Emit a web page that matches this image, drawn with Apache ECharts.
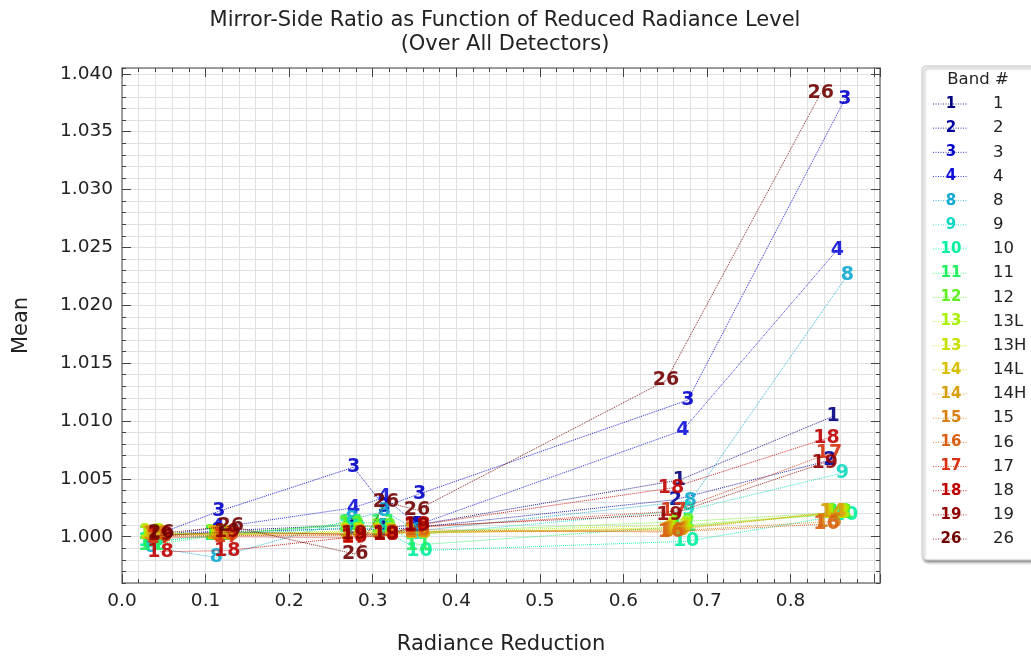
<!DOCTYPE html>
<html>
<head>
<meta charset="utf-8">
<title>Mirror-Side Ratio</title>
<script src="https://cdn.jsdelivr.net/npm/echarts@6/dist/echarts.min.js"></script>
<style>
    html, body { margin: 0; padding: 0; background: #fff; }
    #mirror_side { width: 1031px; height: 656px; }
</style>
</head>
<body>
<div id="mirror_side"></div>
<script>

// Data
// ------------------------------

var bandNames = ['1', '2', '3', '4', '8', '9', '10', '11', '12', '13L', '13H', '14L', '14H', '15', '16', '17', '18', '19', '26'];
var bandMarks = ['1', '2', '3', '4', '8', '9', '10', '11', '12', '13', '13', '14', '14', '15', '16', '17', '18', '19', '26'];
var bandColors = ['#00007f', '#00009c', '#0000c8', '#1010d8', '#10a8d0', '#10d8c0', '#00f0a0', '#20f060', '#60f020',
    '#a8f000', '#c8e000', '#d8c000', '#d8a010', '#d88010', '#d86010', '#d83010', '#c00000', '#900000', '#700000'];

// radiance reduction (x) per band
var radiance_1   = [0.035, 0.115, 0.275, 0.313, 0.352, 0.667, 0.851];
var radiance_2   = [0.035, 0.115, 0.275, 0.313, 0.352, 0.662, 0.847];
var radiance_3   = [0.035, 0.116, 0.277, 0.314, 0.356, 0.677, 0.865];
var radiance_4   = [0.035, 0.115, 0.277, 0.314, 0.353, 0.671, 0.856];
var radiance_8   = [0.035, 0.113, 0.275, 0.314, 0.354, 0.680, 0.868];
var radiance_9   = [0.035, 0.114, 0.275, 0.313, 0.354, 0.678, 0.862];
var radiance_10  = [0.035, 0.114, 0.275, 0.313, 0.356, 0.675, 0.865];
var radiance_11  = [0.035, 0.114, 0.275, 0.313, 0.354, 0.672, 0.860];
var radiance_12  = [0.035, 0.114, 0.274, 0.313, 0.353, 0.670, 0.858];
var radiance_13L = [0.036, 0.116, 0.275, 0.313, 0.353, 0.668, 0.856];
var radiance_13H = [0.037, 0.117, 0.276, 0.314, 0.354, 0.666, 0.854];
var radiance_14L = [0.038, 0.118, 0.276, 0.314, 0.354, 0.664, 0.852];
var radiance_14H = [0.040, 0.120, 0.277, 0.315, 0.354, 0.662, 0.850];
var radiance_15  = [0.042, 0.122, 0.277, 0.315, 0.353, 0.660, 0.846];
var radiance_16  = [0.044, 0.124, 0.278, 0.316, 0.353, 0.657, 0.843];
var radiance_17  = [0.045, 0.125, 0.278, 0.316, 0.353, 0.660, 0.846];
var radiance_18  = [0.046, 0.126, 0.278, 0.316, 0.353, 0.657, 0.843];
var radiance_19  = [0.046, 0.126, 0.278, 0.316, 0.353, 0.655, 0.841];
var radiance_26  = [0.047, 0.130, 0.279, 0.316, 0.353, 0.651, 0.836];

// mean mirror-side ratio (y) per band
var mean_1   = [1.0001, 1.0005, 1.0010, 1.0008, 1.0010, 1.0049, 1.0104];
var mean_2   = [1.0000, 1.0004, 1.0007, 1.0006, 1.0008, 1.0032, 1.0066];
var mean_3   = [1.0000, 1.0022, 1.0060, 1.0026, 1.0037, 1.0118, 1.0378];
var mean_4   = [1.0000, 1.0008, 1.0025, 1.0034, 1.0010, 1.0092, 1.0248];
var mean_8   = [0.9991, 0.9982, 1.0015, 1.0022, 1.0005, 1.0031, 1.0226];
var mean_9   = [0.9995, 1.0002, 1.0010, 1.0008, 1.0002, 1.0023, 1.0055];
var mean_10  = [0.9996, 1.0001, 1.0008, 1.0006, 0.9988, 0.9996, 1.0019];
var mean_11  = [0.9993, 1.0001, 1.0012, 1.0012, 0.9993, 1.0009, 1.0020];
var mean_12  = [1.0002, 1.0003, 1.0010, 1.0008, 1.0004, 1.0013, 1.0021];
var mean_13L = [1.0004, 1.0002, 1.0005, 1.0005, 1.0004, 1.0010, 1.0020];
var mean_13H = [1.0003, 1.0002, 1.0004, 1.0004, 1.0003, 1.0008, 1.0020];
var mean_14L = [1.0002, 1.0002, 1.0003, 1.0003, 1.0003, 1.0007, 1.0021];
var mean_14H = [1.0002, 1.0002, 1.0003, 1.0003, 1.0004, 1.0006, 1.0021];
var mean_15  = [1.0001, 1.0001, 1.0002, 1.0003, 1.0004, 1.0005, 1.0013];
var mean_16  = [1.0000, 1.0001, 1.0001, 1.0001, 1.0006, 1.0004, 1.0011];
var mean_17  = [0.9999, 1.0000, 0.9999, 1.0001, 1.0008, 1.0022, 1.0072];
var mean_18  = [0.9987, 0.9988, 1.0000, 1.0001, 1.0010, 1.0042, 1.0085];
var mean_19  = [1.0001, 1.0004, 1.0002, 1.0002, 1.0009, 1.0019, 1.0064];
var mean_26  = [1.0003, 1.0009, 0.9985, 1.0030, 1.0023, 1.0135, 1.0383];

var radianceByBand = [radiance_1, radiance_2, radiance_3, radiance_4, radiance_8, radiance_9, radiance_10, radiance_11,
    radiance_12, radiance_13L, radiance_13H, radiance_14L, radiance_14H, radiance_15, radiance_16, radiance_17,
    radiance_18, radiance_19, radiance_26];
var meanByBand = [mean_1, mean_2, mean_3, mean_4, mean_8, mean_9, mean_10, mean_11, mean_12, mean_13L, mean_13H,
    mean_14L, mean_14H, mean_15, mean_16, mean_17, mean_18, mean_19, mean_26];

var xTickLabels = ['0.0', '0.1', '0.2', '0.3', '0.4', '0.5', '0.6', '0.7', '0.8'];
var yMajorTicks = [1.000, 1.005, 1.010, 1.015, 1.020, 1.025, 1.030, 1.035, 1.040];


// Setup module
// ------------------------------

var MirrorSideChart = function() {

    var _mirrorSideExample = function() {
        if (typeof echarts == 'undefined') {
            console.warn('Warning - echarts.min.js is not loaded.');
            return;
        }

        var element = document.getElementById('mirror_side');
        if (!element) return;

        var chart = echarts.init(element, null, { renderer: 'canvas' });

        var fontFamily = 'DejaVu Sans, sans-serif';
        var gridColor = '#e0e0e0';
        var frameColor = '#808080';
        var tickColor = '#444';

        var xMin = 0, xMax = 0.907;
        var yMin = 0.996, yMax = 1.0405;

        // Common axis builders
        var xAxisBase = function(position, interval, tickLen, withLine, withLabel, withSplit) {
            return {
                type: 'value',
                position: position,
                min: xMin,
                max: xMax,
                interval: interval,
                axisLine: { show: withLine, onZero: false, lineStyle: { color: frameColor, width: 1.5 } },
                axisTick: { show: true, inside: true, length: tickLen, lineStyle: { color: tickColor, width: 1 } },
                axisLabel: {
                    show: withLabel,
                    margin: 9,
                    fontSize: 18.5,
                    color: '#222',
                    fontFamily: fontFamily,
                    formatter: function(v) {
                        var s = v.toFixed(1);
                        if (Math.abs(v - parseFloat(s)) > 1e-6) return '';
                        return xTickLabels.indexOf(s) >= 0 ? s : '';
                    }
                },
                splitLine: { show: withSplit, lineStyle: { color: gridColor, width: 1 } }
            };
        };

        var yAxisBase = function(position, tickLen, major, withLine, withLabel, withSplit) {
            return {
                type: 'value',
                position: position,
                min: yMin,
                max: yMax,
                interval: 0.001,
                axisLine: { show: withLine, onZero: false, lineStyle: { color: frameColor, width: 1.5 } },
                axisTick: major
                    ? { show: true, inside: true, length: tickLen, customValues: yMajorTicks, lineStyle: { color: tickColor, width: 1 } }
                    : { show: true, inside: true, length: tickLen, lineStyle: { color: tickColor, width: 1 } },
                axisLabel: {
                    show: withLabel,
                    margin: 9,
                    fontSize: 18.5,
                    color: '#222',
                    fontFamily: fontFamily,
                    formatter: function(v) {
                        var k = Math.round(v * 1000);
                        if (Math.abs(v * 1000 - k) > 1e-6 || k % 5 !== 0) return '';
                        return v.toFixed(3);
                    }
                },
                splitLine: { show: withSplit, lineStyle: { color: gridColor, width: 1 } }
            };
        };

        // Series: dotted line + text markers per band
        var series = [];
        bandNames.forEach(function(name, i) {
            var xs = radianceByBand[i];
            var ys = meanByBand[i];
            var pts = xs.map(function(x, j) { return [x, ys[j]]; });

            series.push({
                name: name,
                type: 'line',
                data: pts,
                showSymbol: false,
                symbol: 'none',
                z: 2 + i * 2,
                lineStyle: { color: bandColors[i], width: 1, type: 'dotted', opacity: 0.85 },
                silent: true
            });
            series.push({
                name: name,
                type: 'scatter',
                data: pts,
                symbol: 'circle',
                symbolSize: 1,
                z: 3 + i * 2,
                itemStyle: { color: 'rgba(0,0,0,0)' },
                label: {
                    show: true,
                    position: 'inside',
                    formatter: bandMarks[i],
                    color: bandColors[i],
                    fontWeight: 'bold',
                    fontSize: 19,
                    fontFamily: fontFamily,
                    opacity: 0.9
                }
            });
        });

        // Legend drawn as graphics
        var legendItems = [];
        var legendX = 922, legendY = 66, rowTop = 104, rowStep = 24.17;
        legendItems.push({
            type: 'rect',
            shape: { x: legendX, y: legendY, width: 130, height: 494, r: 4 },
            style: { fill: '#fff', stroke: '#c8c8c8', lineWidth: 1, shadowBlur: 3, shadowOffsetX: 2, shadowOffsetY: 2, shadowColor: 'rgba(0,0,0,0.45)' },
            z: 100
        });
        legendItems.push({
            type: 'text',
            x: 978, y: 80,
            style: { text: 'Band #', font: '16.5px ' + fontFamily, fill: '#222', align: 'center', verticalAlign: 'middle' },
            z: 101
        });
        bandNames.forEach(function(name, i) {
            var y = rowTop + i * rowStep;
            legendItems.push({
                type: 'line',
                shape: { x1: 933, y1: y, x2: 968, y2: y },
                style: { stroke: bandColors[i], lineWidth: 1, lineDash: [1, 1.5], opacity: 0.8 },
                z: 101
            });
            legendItems.push({
                type: 'text',
                x: 951, y: y,
                style: { text: bandMarks[i], font: 'bold 15px ' + fontFamily, fill: bandColors[i], align: 'center', verticalAlign: 'middle' },
                z: 102
            });
            legendItems.push({
                type: 'text',
                x: 993, y: y,
                style: { text: name, font: '16.5px ' + fontFamily, fill: '#222', align: 'left', verticalAlign: 'middle' },
                z: 102
            });
        });

        chart.setOption({
            animation: false,
            textStyle: { fontFamily: fontFamily },

            title: {
                text: 'Mirror-Side Ratio as Function of Reduced Radiance Level\n(Over All Detectors)',
                left: 500,
                top: 4,
                textAlign: 'center',
                textStyle: { fontSize: 21, fontWeight: 'normal', color: '#222', lineHeight: 24, fontFamily: fontFamily }
            },

            grid: { left: 122, right: 151, top: 68, bottom: 73, containLabel: false, outerBoundsMode: 'none' },

            xAxis: [
                Object.assign(xAxisBase('bottom', 0.02, 4, true, true, true), {
                    name: 'Radiance Reduction',
                    nameLocation: 'middle',
                    nameGap: 51,
                    nameTextStyle: { fontSize: 21, color: '#222', fontFamily: fontFamily }
                }),
                xAxisBase('bottom', 0.1, 9, false, false, false),
                xAxisBase('top', 0.02, 4, true, false, false),
                xAxisBase('top', 0.1, 9, false, false, false)
            ],

            yAxis: [
                Object.assign(yAxisBase('left', 4, false, true, true, true), {
                    name: 'Mean',
                    nameLocation: 'middle',
                    nameGap: 90,
                    nameTextStyle: { fontSize: 21, color: '#222', fontFamily: fontFamily }
                }),
                yAxisBase('left', 9, true, false, false, false),
                yAxisBase('right', 4, false, true, false, false),
                yAxisBase('right', 9, true, false, false, false)
            ],

            graphic: legendItems,

            series: series
        });
    };

    return {
        init: function() {
            _mirrorSideExample();
        }
    };
}();


// Initialize module
// ------------------------------

document.addEventListener('DOMContentLoaded', function() {
    MirrorSideChart.init();
});
</script>
</body>
</html>
